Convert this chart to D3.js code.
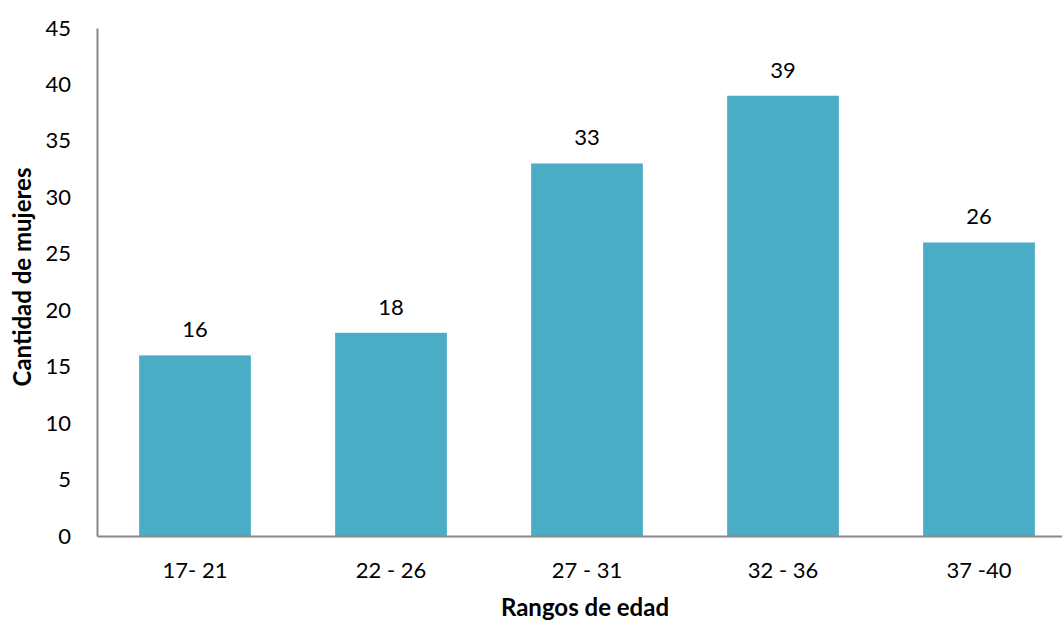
<!DOCTYPE html>
<html lang="es">
<head>
<meta charset="UTF-8">
<title>Rangos de edad</title>
<script src="https://cdn.jsdelivr.net/npm/d3@7/dist/d3.min.js"></script>
<style>
body { margin: 0; background: #fff; overflow: hidden; }
text { font-family: Lato, "Open Sans", sans-serif; fill: #000; }
</style>
</head>
<body>
<svg width="1062" height="623"></svg>
<script>
var categories = ['17- 21', '22 - 26', '27 - 31', '32 - 36', '37 -40'];
var values = [16, 18, 33, 39, 26];
var yTicks = [0, 5, 10, 15, 20, 25, 30, 35, 40, 45];

var svg = d3.select('svg');
// plot area (note: "top" is reserved on window, so use other names)
var plotLeft = 97, plotRight = 1077, plotTop = 28, plotBottom = 536;

var x = d3.scaleBand()
    .domain(categories)
    .range([plotLeft, plotRight])
    .paddingInner(0.43)
    .paddingOuter(0.215);

var y = d3.scaleLinear()
    .domain([0, 45])
    .range([plotBottom, plotTop]);

// bars
svg.append('g')
    .selectAll('rect')
    .data(values)
    .enter()
    .append('rect')
    .attr('x', function(d, i) { return x(categories[i]); })
    .attr('y', function(d) { return y(d); })
    .attr('width', x.bandwidth())
    .attr('height', function(d) { return y(0) - y(d); })
    .attr('fill', '#4BACC6');

// value labels
svg.append('g')
    .selectAll('text')
    .data(values)
    .enter()
    .append('text')
    .attr('x', function(d, i) { return x(categories[i]) + x.bandwidth() / 2; })
    .attr('y', function(d) { return y(d) - 18; })
    .attr('text-anchor', 'middle')
    .attr('font-size', 22)
    .text(function(d) { return d; });

// y axis
var yAxis = svg.append('g')
    .attr('transform', 'translate(' + plotLeft + ',0)')
    .call(d3.axisLeft(y).tickValues(yTicks).tickSize(0).tickPadding(26));
yAxis.select('.domain').attr('stroke', '#888').attr('stroke-width', 2);
yAxis.selectAll('text').attr('font-size', 22).attr('font-family', 'Lato, sans-serif').attr('fill', '#000');

// x axis
var xAxis = svg.append('g')
    .attr('transform', 'translate(0,' + plotBottom + ')')
    .call(d3.axisBottom(x).tickSize(0).tickPadding(26));
xAxis.select('.domain').attr('stroke', '#888').attr('stroke-width', 2);
xAxis.selectAll('text').attr('font-size', 22).attr('font-family', 'Lato, sans-serif').attr('fill', '#000');

// axis titles
svg.append('text')
    .attr('x', 585)
    .attr('y', 616)
    .attr('text-anchor', 'middle')
    .attr('font-size', 24)
    .attr('font-weight', 'bold')
    .text('Rangos de edad');

svg.append('text')
    .attr('transform', 'translate(31,277) rotate(-90)')
    .attr('text-anchor', 'middle')
    .attr('font-size', 24)
    .attr('font-weight', 'bold')
    .text('Cantidad de mujeres');
</script>
</body>
</html>
